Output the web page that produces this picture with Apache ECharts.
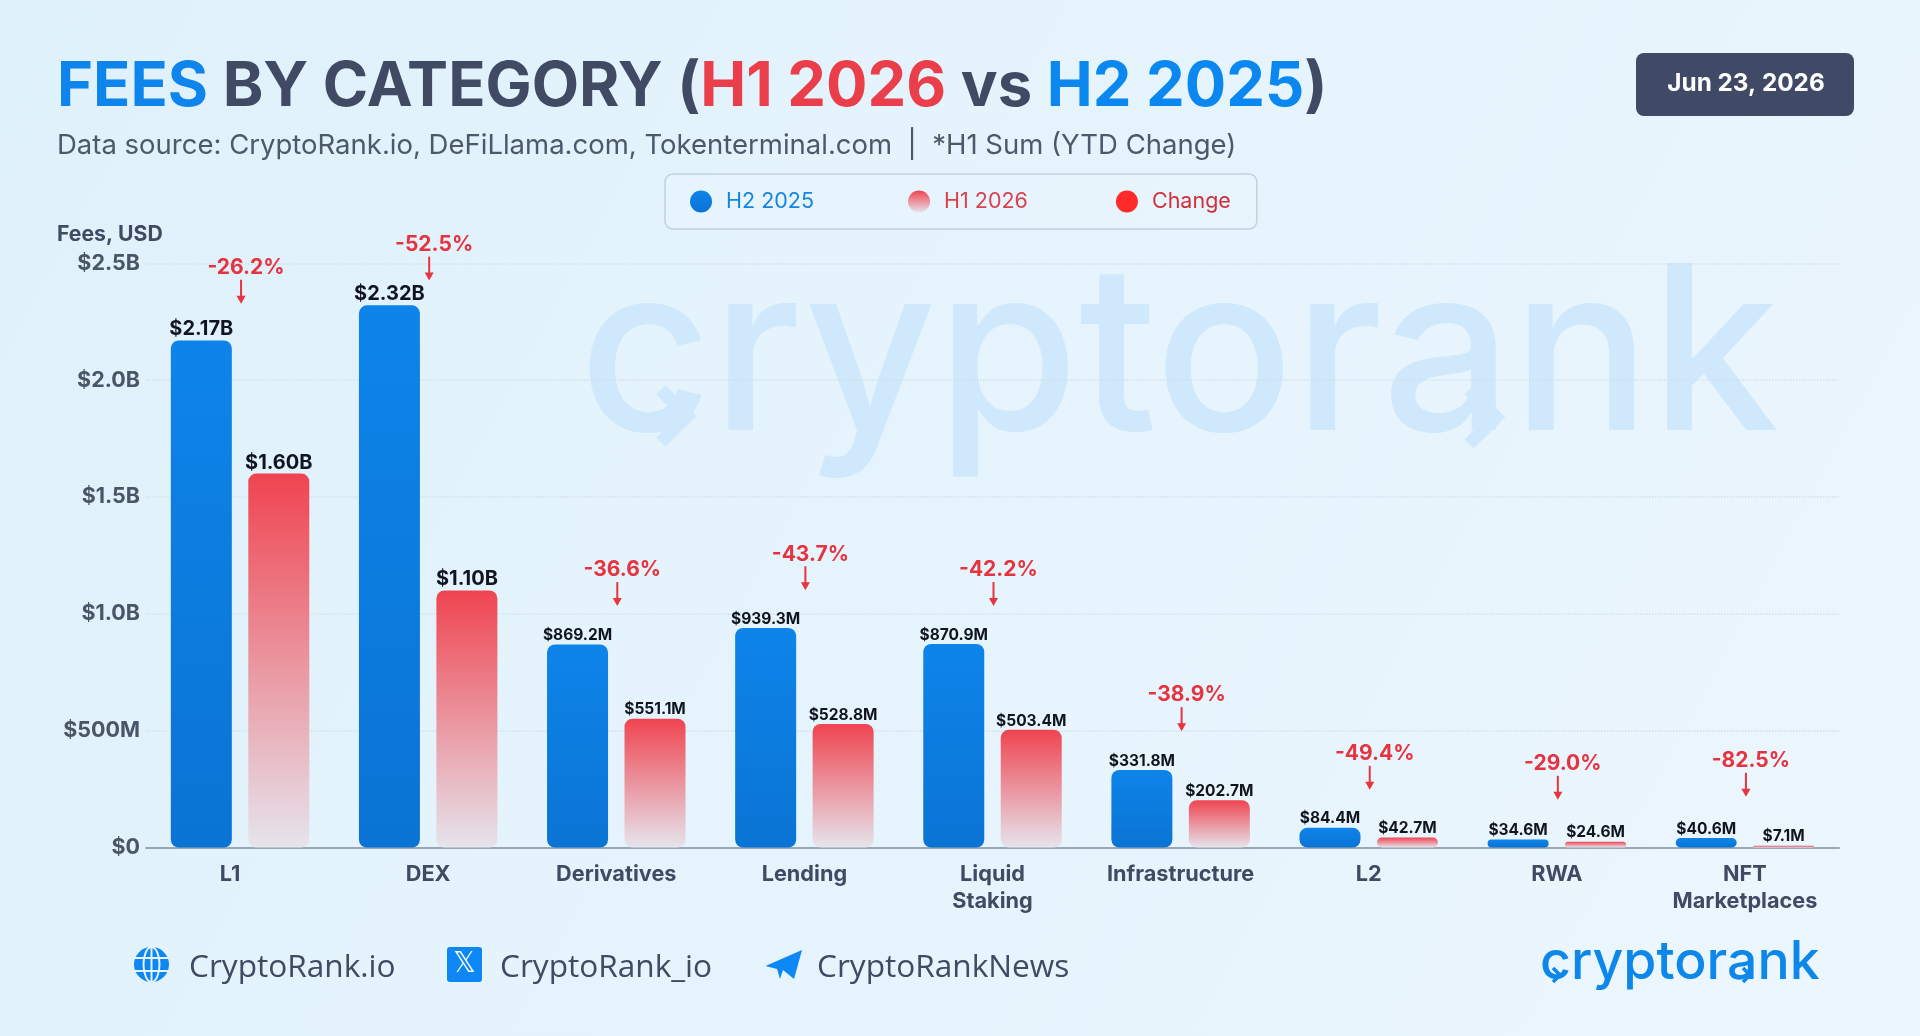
<!DOCTYPE html>
<html><head><meta charset="utf-8">
<style>html,body{margin:0;padding:0;width:100%;height:100%;overflow:hidden}#c{width:1920px;height:1036px}</style>
<script src="https://cdn.jsdelivr.net/npm/echarts@6/dist/echarts.min.js"></script>
</head><body><div id="c"></div>
<script>
const categories = ['L1','DEX','Derivatives','Lending','Liquid\nStaking','Infrastructure','L2','RWA','NFT\nMarketplaces'];
const h2Values = [2170,2320,869.2,939.3,870.9,331.8,84.4,34.6,40.6];
const h1Values = [1600,1100,551.1,528.8,503.4,202.7,42.7,24.6,7.1];
const changePct = [-26.2,-52.5,-36.6,-43.7,-42.2,-38.9,-49.4,-29.0,-82.5];
const arrowTips = [2327,2426,1033,1101,1033,498,247,204,217];
const titleText = '{a|FEES}{b| BY CATEGORY (}{c|H1 2026}{b| vs }{d|H2 2025}{b|)}';
const subtitleText = 'Data source: CryptoRank.io, DeFiLlama.com, Tokenterminal.com  |  *H1 Sum (YTD Change)';
const dateText = 'Jun 23, 2026';

const F = 'Inter, "Noto Sans", sans-serif';
const INK = '#404a63';
const fmtVal = v => v >= 1000 ? '$' + (v/1000).toFixed(2) + 'B' : '$' + v.toFixed(1) + 'M';
const fmtTick = v => v === 0 ? '$0' : v >= 1000 ? '$' + (v/1000).toFixed(1) + 'B' : '$' + v + 'M';
const grad = (a,b) => ({type:'linear',x:0,y:0,x2:0,y2:1,colorStops:[{offset:0,color:a},{offset:1,color:b}]});
const barData = arr => arr.map(v => ({value:v,label:{fontSize:v>=1000?20:15.5}}));

const chev = (x,y,s,w,color) => ({type:'polyline',z:0,shape:{points:[[x,y],[x+s,y+s],[x,y+2*s]]},style:{stroke:color,lineWidth:w,fill:null}});

const chart = echarts.init(document.getElementById('c'));
const big = c => ({fontFamily:F,fontSize:61.5,fontWeight:700,color:c});
chart.setOption({
  animation:false,
  backgroundColor:{type:'linear',x:0,y:0,x2:1,y2:1,colorStops:[{offset:0,color:'#dff1fb'},{offset:1,color:'#ecf6fe'}]},
  title:[{left:57,top:57,padding:0,text:titleText,textStyle:{fontFamily:F,rich:{
    a:big('#0d85ec'),b:big(INK),c:big('#ea3f4b'),d:big('#0a88f0')}}},
    {left:57,top:131.5,padding:0,text:subtitleText,textStyle:{fontFamily:F,fontSize:27.5,fontWeight:400,color:'#4d586b'}}],
  legend:{left:665,top:174,orient:'horizontal',icon:'circle',itemWidth:40,itemHeight:22,itemGap:88,
    padding:[16.5,26,16.5,25],borderColor:'#c3d0de',borderWidth:1.5,borderRadius:8,backgroundColor:'rgba(240,248,254,0.3)',
    textStyle:{fontFamily:F,fontSize:21.5},selectedMode:false,
    formatter:n=>n==='H2 2025'?n+'\u00a0':n,
    data:[{name:'H2 2025',textStyle:{color:'#1785dd'}},{name:'H1 2026',textStyle:{color:'#d8414e'}},{name:'Change',textStyle:{color:'#d0303a'}}]},
  grid:{left:146,top:263.3,width:1693,height:584.2,containLabel:false},
  xAxis:{type:'category',data:categories.map((c,i)=>i===0?{value:c,textStyle:{padding:[0,20,0,0]}}:c),
    axisTick:{show:false},axisLine:{lineStyle:{color:'#9aa7b5',width:2}},
    axisLabel:{interval:0,margin:13,fontFamily:F,fontSize:21.7,fontWeight:700,color:INK,lineHeight:27}},
  yAxis:{type:'value',min:0,max:2500,interval:500,axisLine:{show:false},axisTick:{show:false},
    splitLine:{lineStyle:{color:'#d2dfe9',type:'dotted',width:1.5}},
    axisLabel:{margin:6,padding:[4,0,0,0],fontFamily:F,fontSize:21.5,fontWeight:700,color:'#4a5568',formatter:fmtTick}},
  series:[
    {name:'H2 2025',type:'bar',barWidth:61,barGap:'27%',data:barData(h2Values),
     itemStyle:{borderRadius:8,color:grad('#0e84ea','#0a74d4')},
     label:{show:true,position:'top',distance:1,fontFamily:F,fontWeight:700,color:'#10141f',formatter:p=>fmtVal(p.value)}},
    {name:'H1 2026',type:'bar',barWidth:61,data:barData(h1Values),
     itemStyle:{borderRadius:8,color:grad('#ef4450','#e6e4ec')},
     label:{show:true,position:'top',distance:1,fontFamily:F,fontWeight:700,color:'#10141f',formatter:p=>fmtVal(p.value)}},
    {name:'Change',type:'custom',itemStyle:{color:'#ff2a2a'},data:arrowTips.map((t,i)=>[i,t]),
     encode:{x:0,y:1},z:5,
     renderItem:(params,api)=>{
       const pt=api.coord([api.value(0),api.value(1)]);
       const x=pt[0]+1,y=pt[1];
       return {type:'group',children:[
         {type:'line',shape:{x1:x,y1:y-24,x2:x,y2:y-6},style:{stroke:'#e8343c',lineWidth:2}},
         {type:'polygon',shape:{points:[[x-4.5,y-8],[x+4.5,y-8],[x,y]]},style:{fill:'#e8343c'}},
         {type:'text',style:{x:x+5,y:y-36,text:changePct[params.dataIndex].toFixed(1)+'%',fill:'#e5343f',
           font:'700 21px '+F,textAlign:'center',textVerticalAlign:'middle'}}
       ]};
     }}
  ],
  graphic:[
    {type:'text',z:0,left:579,top:246,style:{text:'cryptorank',font:'500 230px '+F,fill:'#cfe8fb'}},
    chev(661,390,26,13,'#cfe8fb'),
    chev(1469,390,27,13,'#cfe8fb'),
    {type:'rect',shape:{x:1636,y:53,width:218,height:63,r:8},style:{fill:'#404a66'}},
    {type:'text',style:{x:1746,y:84,text:dateText,font:'700 24.3px '+F,fill:'#fff',textAlign:'center',textVerticalAlign:'middle'}},
    {type:'text',style:{x:57,y:235,text:'Fees, USD',font:'700 21.2px '+F,fill:INK,textVerticalAlign:'middle'}},
    {type:'circle',shape:{cx:151.5,cy:964.5,r:17.5},style:{fill:'#0d87f3'}},
    {type:'ellipse',shape:{cx:151.5,cy:964.5,rx:8,ry:17.5},style:{stroke:'#e6f4fd',lineWidth:2,fill:null}},
    {type:'line',shape:{x1:151.5,y1:947,x2:151.5,y2:982},style:{stroke:'#e6f4fd',lineWidth:2}},
    {type:'line',shape:{x1:134,y1:958,x2:169,y2:958},style:{stroke:'#e6f4fd',lineWidth:2}},
    {type:'line',shape:{x1:134,y1:971,x2:169,y2:971},style:{stroke:'#e6f4fd',lineWidth:2}},
    {type:'text',style:{x:189,y:967.5,text:'CryptoRank.io',font:'400 31.6px "Open Sans"',fill:INK,textVerticalAlign:'middle'}},
    {type:'rect',shape:{x:447,y:947,width:35,height:35,r:3},style:{fill:'#0d87f3'}},
    {type:'text',style:{x:464.5,y:965,text:'𝕏',font:'400 28px "DejaVu Sans"',fill:'#fff',textAlign:'center',textVerticalAlign:'middle'}},
    {type:'text',style:{x:500,y:967.5,text:'CryptoRank_io',font:'400 31.6px "Open Sans"',fill:INK,textVerticalAlign:'middle'}},
    {type:'polygon',shape:{points:[[765.5,966],[802,950],[794,979],[783,970],[780,979],[777,969]]},style:{fill:'#0d87f3'}},
    {type:'text',style:{x:817,y:967.5,text:'CryptoRankNews',font:'400 31.6px "Open Sans"',fill:INK,textVerticalAlign:'middle'}},
    {type:'text',style:{x:1540,y:963,text:'cryptorank',font:'500 53.6px '+F,fill:'#0d87e9',textVerticalAlign:'middle'}},
    chev(1553,968,7,3.5,'#0d87e9'),
    chev(1743,968,7,3.5,'#0d87e9')
  ]
});
</script></body></html>
